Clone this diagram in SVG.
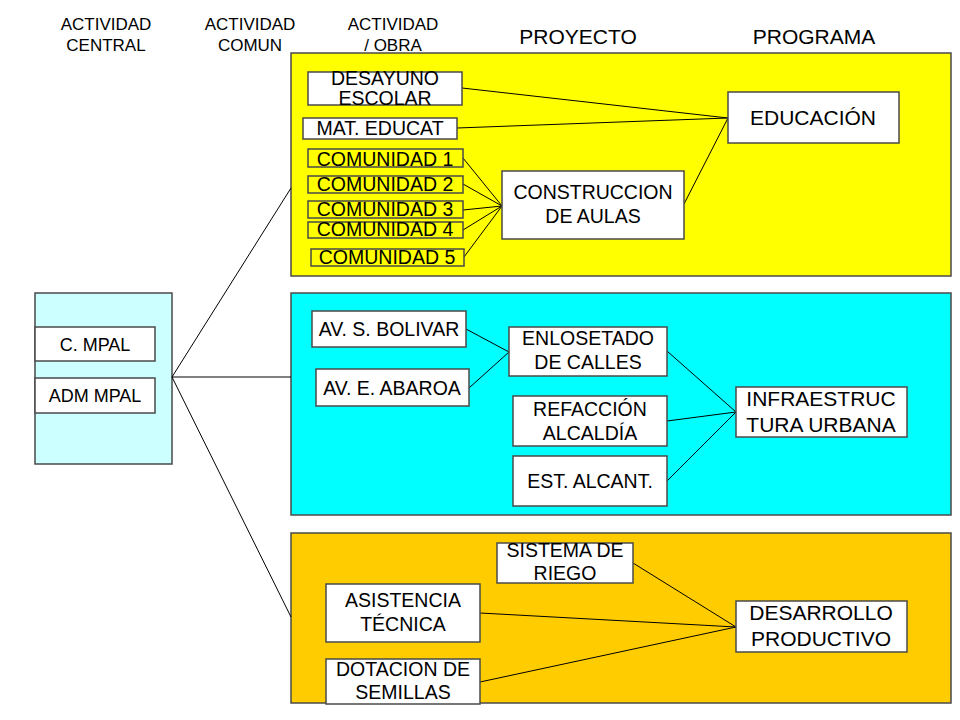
<svg xmlns="http://www.w3.org/2000/svg" width="960" height="720" viewBox="0 0 960 720">
<style>
text{font-family:"Liberation Sans",Arial,sans-serif;fill:#000;text-anchor:middle}
.hd{font-size:17px}
.hb{font-size:21px}
.t{font-size:19.5px}
.s{font-size:18px}
.tb{font-size:21px}
.panel{stroke:#4a4a4a;stroke-width:1.5}
.box{fill:#fff;stroke:#4a4a4a;stroke-width:1.5}
.ybox{fill:#ffff00;stroke:#4a4a4a;stroke-width:1.5}
.c{stroke:#000;stroke-width:1;fill:none}
</style>
<rect width="960" height="720" fill="#fff"/>
<g id="headers">
<text class="hd" x="106" y="30">ACTIVIDAD</text><text class="hd" x="106" y="51">CENTRAL</text>
<text class="hd" x="250" y="30">ACTIVIDAD</text><text class="hd" x="250" y="51">COMUN</text>
<text class="hd" x="393" y="30">ACTIVIDAD</text><text class="hd" x="393" y="51">/ OBRA</text>
<text class="hb" x="578" y="44">PROYECTO</text>
<text class="hb" x="814" y="44">PROGRAMA</text>
</g>
<g id="panel-yellow"><rect class="panel" x="291" y="53" width="660" height="223" fill="#ffff00"/></g>
<g id="panel-cyan"><rect class="panel" x="291" y="293" width="660" height="222" fill="#00ffff"/></g>
<g id="panel-orange"><rect class="panel" x="291" y="533" width="660" height="170" fill="#ffcc00"/></g>
<g id="panel-central"><rect class="panel" x="35" y="293" width="137" height="171" fill="#ccffff"/></g>
<g id="connectors">
<line class="c" x1="172" y1="377" x2="291" y2="188"/>
<line class="c" x1="172" y1="377" x2="291" y2="377"/>
<line class="c" x1="172" y1="377" x2="291" y2="617"/>
<line class="c" x1="462" y1="88" x2="728" y2="118"/>
<line class="c" x1="457" y1="128" x2="728" y2="118"/>
<line class="c" x1="684" y1="204" x2="728" y2="118"/>
<line class="c" x1="463" y1="158" x2="502" y2="206"/>
<line class="c" x1="463" y1="184" x2="502" y2="206"/>
<line class="c" x1="463" y1="210" x2="502" y2="206"/>
<line class="c" x1="463" y1="230" x2="502" y2="206"/>
<line class="c" x1="464" y1="257" x2="502" y2="206"/>
<line class="c" x1="466" y1="329" x2="509" y2="352"/>
<line class="c" x1="469" y1="388" x2="509" y2="352"/>
<line class="c" x1="667" y1="351" x2="736" y2="412"/>
<line class="c" x1="667" y1="421" x2="736" y2="412"/>
<line class="c" x1="667" y1="481" x2="736" y2="412"/>
<line class="c" x1="633" y1="563" x2="736" y2="627"/>
<line class="c" x1="480" y1="613" x2="736" y2="627"/>
<line class="c" x1="480" y1="682" x2="736" y2="627"/>
</g>
<g id="n-cmpal"><rect class="box" x="35" y="327" width="120" height="34"/><text class="s" x="95" y="351">C. MPAL</text></g>
<g id="n-admmpal"><rect class="box" x="35" y="378" width="120" height="35"/><text class="s" x="95" y="402">ADM MPAL</text></g>
<g id="n-desayuno"><rect class="box" x="308" y="72" width="154" height="33"/><text class="t" x="385" y="85">DESAYUNO</text><text class="t" x="385" y="105">ESCOLAR</text></g>
<g id="n-mateducat"><rect class="box" x="303" y="118" width="154" height="21"/><text class="t" x="380" y="135">MAT. EDUCAT</text></g>
<g id="n-com1"><rect class="ybox" x="308" y="149" width="155" height="18"/><text class="t" x="385" y="166">COMUNIDAD 1</text></g>
<g id="n-com2"><rect class="ybox" x="308" y="176" width="155" height="17"/><text class="t" x="385" y="191">COMUNIDAD 2</text></g>
<g id="n-com3"><rect class="ybox" x="308" y="201" width="155" height="17"/><text class="t" x="385" y="216">COMUNIDAD 3</text></g>
<g id="n-com4"><rect class="ybox" x="308" y="222" width="155" height="16"/><text class="t" x="385" y="236">COMUNIDAD 4</text></g>
<g id="n-com5"><rect class="ybox" x="311" y="249" width="153" height="17"/><text class="t" x="387" y="264">COMUNIDAD 5</text></g>
<g id="n-construccion"><rect class="box" x="502" y="171" width="182" height="68"/><text class="t" x="593" y="199">CONSTRUCCION</text><text class="t" x="593" y="223">DE AULAS</text></g>
<g id="n-educacion"><rect class="box" x="728" y="92" width="171" height="51"/><text class="tb" x="813" y="125">EDUCACIÓN</text></g>
<g id="n-bolivar"><rect class="box" x="312" y="311" width="154" height="36"/><text class="t" x="389" y="336">AV. S. BOLIVAR</text></g>
<g id="n-abaroa"><rect class="box" x="316" y="369" width="153" height="37"/><text class="t" x="392" y="395">AV. E. ABAROA</text></g>
<g id="n-enlosetado"><rect class="box" x="509" y="327" width="158" height="49"/><text class="t" x="588" y="345">ENLOSETADO</text><text class="t" x="588" y="369">DE CALLES</text></g>
<g id="n-refaccion"><rect class="box" x="513" y="396" width="154" height="50"/><text class="t" x="590" y="416">REFACCIÓN</text><text class="t" x="590" y="440">ALCALDÍA</text></g>
<g id="n-estalcant"><rect class="box" x="513" y="456" width="154" height="50"/><text class="t" x="590" y="488">EST. ALCANT.</text></g>
<g id="n-infra"><rect class="box" x="736" y="387" width="171" height="50"/><text class="tb" x="821" y="406">INFRAESTRUC</text><text class="tb" x="821" y="432">TURA URBANA</text></g>
<g id="n-riego"><rect class="box" x="497" y="543" width="136" height="40"/><text class="t" x="565" y="557">SISTEMA DE</text><text class="t" x="565" y="580">RIEGO</text></g>
<g id="n-asistencia"><rect class="box" x="326" y="584" width="154" height="58"/><text class="t" x="403" y="607">ASISTENCIA</text><text class="t" x="403" y="631">TÉCNICA</text></g>
<g id="n-dotacion"><rect class="box" x="326" y="659" width="154" height="45"/><text class="t" x="403" y="676">DOTACION DE</text><text class="t" x="403" y="699">SEMILLAS</text></g>
<g id="n-desarrollo"><rect class="box" x="736" y="601" width="171" height="51"/><text class="tb" x="821" y="620">DESARROLLO</text><text class="tb" x="821" y="646">PRODUCTIVO</text></g>
</svg>
